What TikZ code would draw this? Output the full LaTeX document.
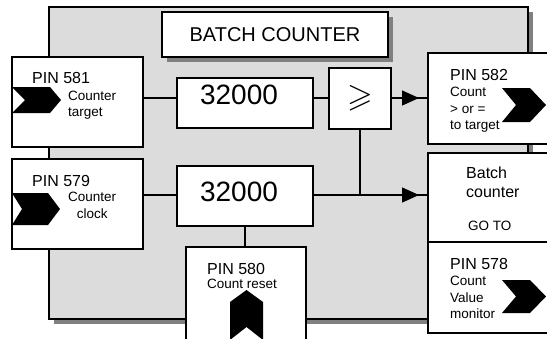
\documentclass[tikz,border=0pt]{standalone}
\usepackage{fontspec}
\usepackage{amssymb}
\setmainfont{Liberation Sans}
\usetikzlibrary{positioning, calc, arrows.meta}
\definecolor{PanelGray}{HTML}{DCDCDC}
\definecolor{ShadowGray}{HTML}{808080}

\begin{document}
\begin{tikzpicture}[
    x=1pt, y=-1pt,
    font=\fontsize{13.5}{16.5}\selectfont,
    box/.style={draw=black, fill=white, line width=1.3pt, anchor=north west, inner sep=0pt, outer sep=0pt},
    wire/.style={line width=1.3pt},
    tip/.style={-{Triangle[length=17pt,width=15pt]}, line width=1.3pt},
    pinlabel/.style={anchor=base west, inner sep=0pt, font=\fontsize{16}{19}\selectfont},
    note/.style={anchor=base west, inner sep=0pt, align=left},
    bigval/.style={inner sep=0pt, font=\fontsize{28}{32}\selectfont}
]
    \useasboundingbox (0,0) rectangle (547,338);

    % panel with its shadow
    \fill[ShadowGray] (54,12) rectangle (533,324);
    \node[box, fill=PanelGray, minimum width=479pt, minimum height=312pt] (panel) at (49,7) {};

    % title
    \fill[ShadowGray] (167,17) rectangle (393,62);
    \node[box, minimum width=226pt, minimum height=45pt, font=\fontsize{20}{24}\selectfont] (title) at (162,12) {BATCH COUNTER};

    % boxes
    \node[box, minimum width=131pt, minimum height=90pt] (pin581) at (12,57) {};
    \node[box, minimum width=131pt, minimum height=90pt] (pin579) at (12,159) {};
    \node[box, minimum width=136pt, minimum height=50pt] (cnt1) at (177,78) {};
    \node[box, minimum width=136pt, minimum height=60pt] (cnt2) at (177,166) {};
    \node[box, minimum width=62pt, minimum height=61pt, font=\fontsize{33}{36}\selectfont] (ge) at (329,68) {$\geqslant$};
    \node[box, minimum width=120pt, minimum height=93pt] (pin580) at (186,247) {};
    \node[box, minimum width=121pt, minimum height=91pt] (pin582) at (428,53) {};
    \node[box, minimum width=121pt, minimum height=89pt] (batch) at (428,153) {};
    \node[box, minimum width=121pt, minimum height=91pt] (pin578) at (428,242) {};

    % connectors
    \coordinate (row1) at (0,98);
    \coordinate (row2) at (0,195);
    \draw[wire] (pin581.east |- row1) -- (cnt1.west |- row1);
    \draw[wire] (cnt1.east |- row1) -- (ge.west |- row1);
    \draw[wire] (ge.east |- row1) -- (pin582.west |- row1);
    \draw[tip] (ge.east |- row1) -- ($(pin582.west |- row1)+(-9,0)$);
    \draw[wire] (pin579.east |- row2) -- (cnt2.west |- row2);
    \draw[wire] (cnt2.east |- row2) -- (batch.west |- row2);
    \draw[tip] (cnt2.east |- row2) -- ($(batch.west |- row2)+(-9,0)$);
    \draw[wire] (ge.south) -- (ge.south |- row2);
    \draw[wire] (cnt2.south) -- (cnt2.south |- pin580.north);

    % texts (multi-line: y is the last baseline)
    \node[bigval] (cnt1-val) at (239,94.5) {32000};
    \node[bigval] (cnt2-val) at (239,191.5) {32000};
    \node[pinlabel] (pin581-no) at (32,83.5) {PIN 581};
    \node[note] (pin581-txt) at (68,116.5) {Counter\\target};
    \node[pinlabel] (pin579-no) at (32,186) {PIN 579};
    \node[note, align=center] (pin579-txt) at (68,218) {Counter\\clock};
    \node[pinlabel] (pin580-no) at (207,274) {PIN 580};
    \node[note] (pin580-txt) at (207,288) {Count reset};
    \node[pinlabel] (pin582-no) at (450,80) {PIN 582};
    \node[note] (pin582-txt) at (450,129.5) {Count\\> or =\\to target};
    \node[pinlabel, align=left] (batch-txt) at (466,197) {Batch\\counter};
    \node[note] (batch-goto) at (468,230) {GO TO};
    \node[pinlabel] (pin578-no) at (450,269) {PIN 578};
    \node[note] (pin578-txt) at (450,318.5) {Count\\Value\\monitor};

    % pin arrows
    \fill (12,87) -- (50,87) -- (61,100) -- (50,113) -- (12,113) -- (25,100) -- cycle;
    \fill (12,193) -- (48,193) -- (60,209) -- (48,225) -- (12,225) -- (22,209) -- cycle;
    \fill (502,88) -- (530,88) -- (546,105) -- (530,122) -- (502,122) -- (516,105) -- cycle;
    \fill (502,280) -- (530,280) -- (546,296.5) -- (530,313) -- (502,313) -- (516,296.5) -- cycle;
    \fill (230,340) -- (230,302) -- (246.5,290) -- (263,302) -- (263,340) -- (246.5,327) -- cycle;
\end{tikzpicture}
\end{document}
